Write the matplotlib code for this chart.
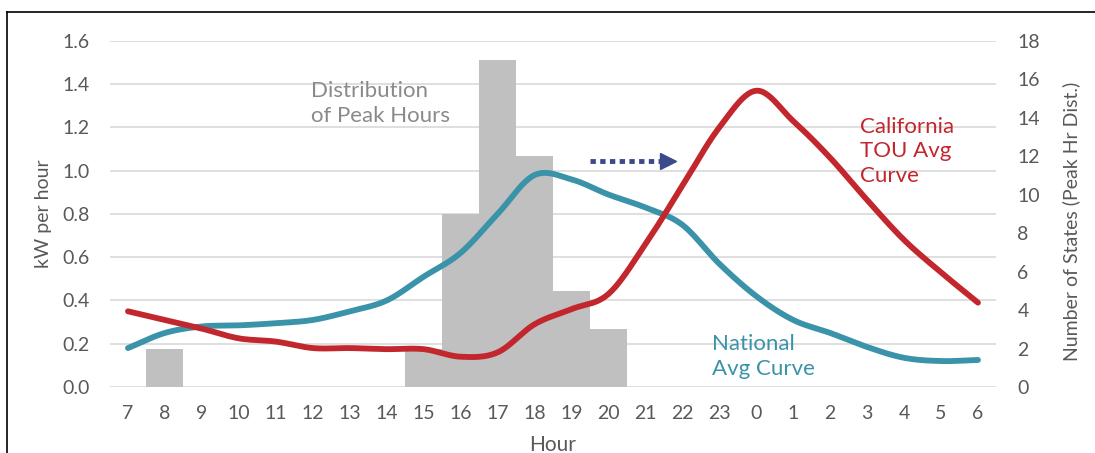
import numpy as np
import matplotlib
matplotlib.use("Agg")
import matplotlib.pyplot as plt
from matplotlib.lines import Line2D

plt.rcParams['font.family'] = ['Lato', 'DejaVu Sans']

hours = ['7', '8', '9', '10', '11', '12', '13', '14', '15', '16', '17', '18',
         '19', '20', '21', '22', '23', '0', '1', '2', '3', '4', '5', '6']
peak_states = [0, 2, 0, 0, 0, 0, 0, 0, 2, 9, 17, 12, 5, 3, 0, 0, 0, 0, 0, 0, 0, 0, 0, 0]
national = [0.18, 0.25, 0.28, 0.285, 0.295, 0.31, 0.35, 0.40, 0.51, 0.62, 0.80, 0.98,
            0.96, 0.89, 0.83, 0.75, 0.57, 0.42, 0.31, 0.25, 0.185, 0.135, 0.12, 0.125]
california = [0.35, 0.31, 0.27, 0.225, 0.21, 0.18, 0.18, 0.175, 0.175, 0.14, 0.16, 0.29,
              0.36, 0.43, 0.66, 0.93, 1.20, 1.37, 1.23, 1.06, 0.865, 0.68, 0.53, 0.39]

# shift arrow (hour index, kW)
arrow_x = [12.5, 14.6]
arrow_y = [1.045, 1.045]

TEAL = '#3a93a8'
RED = '#c3272e'
BAR = '#c0c0c0'
TXT = '#595959'


def smooth(x, y, n=24):
    # catmull-rom style smoothing, like the excel "smoothed line" option
    x = np.asarray(x, float)
    y = np.asarray(y, float)
    px = np.concatenate([[2 * x[0] - x[1]], x, [2 * x[-1] - x[-2]]])
    py = np.concatenate([[2 * y[0] - y[1]], y, [2 * y[-1] - y[-2]]])
    t = np.linspace(0, 1, n, endpoint=False)
    ox, oy = [], []
    for i in range(1, len(px) - 2):
        for p, out in ((px, ox), (py, oy)):
            p0, p1, p2, p3 = p[i - 1], p[i], p[i + 1], p[i + 2]
            out.extend(0.5 * (2 * p1 + (-p0 + p2) * t
                              + (2 * p0 - 5 * p1 + 4 * p2 - p3) * t ** 2
                              + (-p0 + 3 * p1 - 3 * p2 + p3) * t ** 3))
    ox.append(x[-1])
    oy.append(y[-1])
    return np.array(ox), np.array(oy)


fig = plt.figure(figsize=(10.95, 4.53), dpi=100)
ax = fig.add_axes([0.1, 0.1457, 0.81, 0.7638])
ax2 = ax.twinx()

xpos = np.arange(len(hours))
ax.set_xlim(-0.5, len(hours) - 0.5)
ax.set_ylim(0, 1.6)
ax2.set_ylim(0, 18)

ax.set_yticks(np.arange(0, 1.61, 0.2))
ax.set_yticklabels([f'{v:.1f}' for v in np.arange(0, 1.61, 0.2)])
ax2.set_yticks(np.arange(0, 19, 2))
ax.set_xticks(xpos)
ax.set_xticklabels(hours)

ax.grid(axis='y', color='#d9d9d9', linewidth=1.2)
ax.set_axisbelow(True)
for a in (ax, ax2):
    for s in a.spines.values():
        s.set_visible(False)
    a.tick_params(length=0, labelsize=14, colors=TXT)
ax.tick_params(axis='y', pad=14)
ax.tick_params(axis='x', pad=13)
ax2.tick_params(axis='y', pad=15)

ax2.bar(xpos, peak_states, width=1.0, color=BAR, zorder=1)

sx, sy = smooth(xpos, national)
ax2.plot(sx, sy, color=TEAL, linewidth=4.2, solid_capstyle='round', transform=ax.transData, zorder=3)
sx, sy = smooth(xpos, california)
ax2.plot(sx, sy, color=RED, linewidth=4.2, solid_capstyle='round', transform=ax.transData, zorder=4)

ax.set_ylabel('kW per hour', fontsize=14, color=TXT, labelpad=8)
ax2.set_ylabel('Number of States (Peak Hr Dist.)', fontsize=14, color=TXT)
ax2.yaxis.set_label_coords(1.074, 0.48)
ax.set_xlabel('Hour', fontsize=15, color=TXT, labelpad=9)

ax2.text(4.95, 1.415, 'Distribution\nof Peak Hours', transform=ax.transData, fontsize=16,
         color='#8a8a8a', ha='left', va='top', linespacing=1.3, zorder=5)
ax2.text(19.8, 1.25, 'California\nTOU Avg\nCurve', transform=ax.transData, fontsize=16,
         color=RED, ha='left', va='top', linespacing=1.3, zorder=5)
ax2.text(15.8, 0.245, 'National\nAvg Curve', transform=ax.transData, fontsize=16,
         color=TEAL, ha='left', va='top', linespacing=1.3, zorder=5)

ax2.plot(arrow_x, arrow_y, color='#3b4a8a', linewidth=3.5, linestyle=(0, (1.1, 0.9)),
         dash_capstyle='butt', transform=ax.transData, zorder=6)
ax2.plot(arrow_x[-1:], arrow_y[-1:], marker='>', markersize=11, color='#3b4a8a',
         linestyle='none', transform=ax.transData, zorder=6)

# frame of the original figure, cut at right and bottom
fig.add_artist(Line2D([6.5 / 1095, 6.5 / 1095], [0, 1 - 11.5 / 453], color='black', linewidth=1.2))
fig.add_artist(Line2D([6.5 / 1095, 1], [1 - 11.5 / 453, 1 - 11.5 / 453], color='black', linewidth=1.2))

fig.savefig('out.png', dpi=100)
